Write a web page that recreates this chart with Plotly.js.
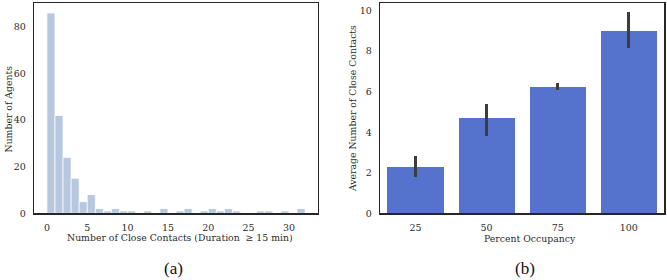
<!DOCTYPE html>
<html>
<head>
<meta charset="utf-8">
<script src="https://cdn.plot.ly/plotly-3.0.1.min.js"></script>
<style>html,body{margin:0;padding:0;background:#fff;}#chart{width:667px;height:280px;}</style>
</head>
<body>
<div id="chart"></div>
<script>
// (a) histogram: bins of width 1 starting at these left edges
const binLeft = [0,1,2,3,4,5,6,7,8,9,10,11,12,13,14,15,16,17,18,19,20,21,22,23,24,25,26,27,28,29,30,31];
const binCounts = [86,42,24,15,5,8,2,1,2,1,1,0,1,0,2,0,1,2,0,1,2,1,2,1,0,0,1,1,0,1,0,2];
const binWidth = 1;

// (b) bar chart
const occupancy = ['25','50','75','100'];
const avgContacts = [2.26, 4.72, 6.21, 9.0];
const ciLow = [1.80, 3.82, 6.10, 8.15];
const ciHigh = [2.82, 5.38, 6.41, 9.92];

const W = 667, H = 280;
const px = v => v / W;
const py = v => 1 - v / H;

const fontFam = '"DejaVu Serif"';
const capFam = '"Liberation Serif"';
const textCol = '#2b2b2b';
const spine = '#262626';

const histTrace = {
  type: 'bar',
  x: binLeft.map(b => b + binWidth / 2),
  y: binCounts,
  width: binWidth,
  marker: {color: '#b7c7df', line: {color: 'rgba(255,255,255,0.9)', width: 0.8}},
  xaxis: 'x', yaxis: 'y',
  hoverinfo: 'x+y'
};

const barTrace = {
  type: 'bar',
  x: occupancy,
  y: avgContacts,
  width: 0.79,
  marker: {color: '#5573cd'},
  error_y: {
    type: 'data', symmetric: false,
    array: ciHigh.map((h, i) => h - avgContacts[i]),
    arrayminus: ciLow.map((l, i) => avgContacts[i] - l),
    color: '#3d3d3d', thickness: 2.6, width: 0
  },
  xaxis: 'x2', yaxis: 'y2'
};

const axBase = {
  showgrid: false, zeroline: false, showline: true, mirror: true,
  linecolor: spine, linewidth: 1.25, ticks: '',
  tickfont: {family: fontFam, size: 9.5, color: textCol},
  ticklabelstandoff: 5
};

const layout = {
  width: W, height: H,
  margin: {l: 0, r: 0, t: 0, b: 0},
  paper_bgcolor: '#ffffff', plot_bgcolor: '#ffffff',
  showlegend: false,
  bargap: 0,
  font: {family: fontFam},
  xaxis: Object.assign({}, axBase, {
    domain: [px(34), px(318)], range: [-1.6, 33.6],
    tickvals: [0,5,10,15,20,25,30], anchor: 'y'
  }),
  yaxis: Object.assign({}, axBase, {
    domain: [py(213.3), py(3)], range: [0, 90.3],
    tickvals: [0,20,40,60,80], anchor: 'x'
  }),
  xaxis2: Object.assign({}, axBase, {
    domain: [px(380), px(664.3)], range: [-0.5, 3.5],
    type: 'category', anchor: 'y2'
  }),
  yaxis2: Object.assign({}, axBase, {
    domain: [py(213.3), py(3)], range: [0, 10.37],
    tickvals: [0,2,4,6,8,10], anchor: 'x2'
  }),
  annotations: [
    {text: 'Number of Agents', x: px(8.5), y: py(109), xref: 'paper', yref: 'paper',
     textangle: -90, showarrow: false, xanchor: 'center', yanchor: 'middle',
     font: {family: fontFam, size: 9.3, color: textCol}},
    {text: 'Number of Close Contacts (Duration\u00a0 \u2265 15 min)', x: px(179.5), y: py(237.5),
     xref: 'paper', yref: 'paper', showarrow: false, xanchor: 'center', yanchor: 'middle',
     font: {family: fontFam, size: 9.3, color: textCol}},
    {text: 'Average Number of Close Contacts', x: px(353), y: py(109), xref: 'paper', yref: 'paper',
     textangle: -90, showarrow: false, xanchor: 'center', yanchor: 'middle',
     font: {family: fontFam, size: 9.3, color: textCol}},
    {text: 'Percent Occupancy', x: px(530), y: py(238.5), xref: 'paper', yref: 'paper',
     showarrow: false, xanchor: 'center', yanchor: 'middle',
     font: {family: fontFam, size: 9.3, color: textCol}},
    {text: '(a)', x: px(173), y: py(268.5), xref: 'paper', yref: 'paper',
     showarrow: false, xanchor: 'center', yanchor: 'middle',
     font: {family: capFam, size: 17, color: '#111111'}},
    {text: '(b)', x: px(524.5), y: py(268.5), xref: 'paper', yref: 'paper',
     showarrow: false, xanchor: 'center', yanchor: 'middle',
     font: {family: capFam, size: 17, color: '#111111'}}
  ]
};

Plotly.newPlot('chart', [histTrace, barTrace], layout, {displayModeBar: false, staticPlot: true});
</script>
</body>
</html>
